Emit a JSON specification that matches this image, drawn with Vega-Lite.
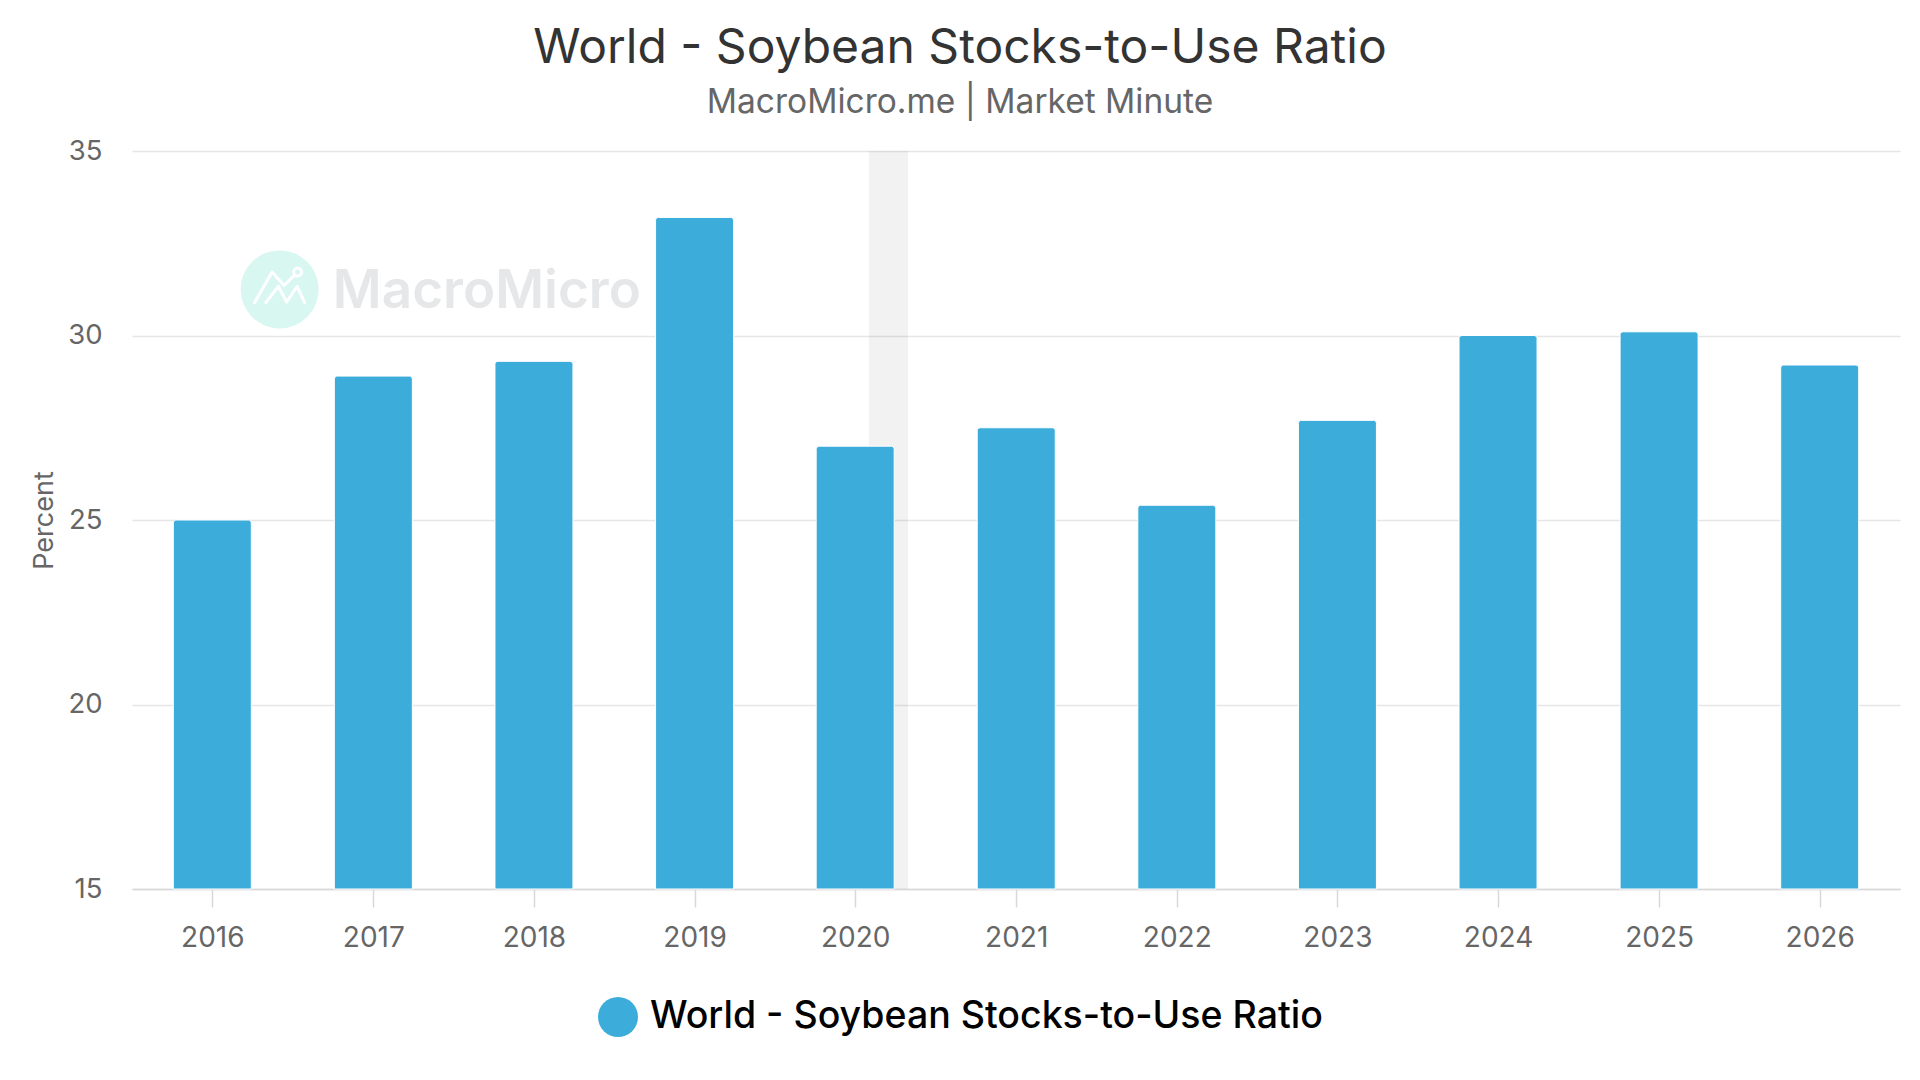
{
  "$schema": "https://vega.github.io/schema/vega-lite/v6.json",
  "autosize": "none",
  "width": 1768,
  "height": 738,
  "padding": {"left": 132, "top": 151, "right": 20, "bottom": 191},
  "background": "#ffffff",
  "title": {
    "text": "World - Soybean Stocks-to-Use Ratio",
    "subtitle": "MacroMicro.me | Market Minute",
    "anchor": "middle",
    "frame": "group",
    "dx": -56,
    "offset": 18,
    "font": "Inter",
    "fontSize": 48,
    "fontWeight": 400,
    "color": "#333333",
    "subtitleFont": "Inter",
    "subtitleFontSize": 33.5,
    "subtitleColor": "#666666",
    "subtitlePadding": 14
  },
  "config": {
    "view": {"stroke": null},
    "font": "Inter"
  },
  "data": {
    "values": [
      {"year": "2016-01-01", "value": 25.0},
      {"year": "2017-01-01", "value": 28.9},
      {"year": "2018-01-01", "value": 29.3},
      {"year": "2019-01-01", "value": 33.2},
      {"year": "2020-01-01", "value": 27.0},
      {"year": "2021-01-01", "value": 27.5},
      {"year": "2022-01-01", "value": 25.4},
      {"year": "2023-01-01", "value": 27.7},
      {"year": "2024-01-01", "value": 30.0},
      {"year": "2025-01-01", "value": 30.1},
      {"year": "2026-01-01", "value": 29.2}
    ]
  },
  "layer": [
    {
      "data": {"values": [{"start": "2020-02-01", "end": "2020-04-30"}]},
      "mark": {"type": "rect", "color": "#000000", "opacity": 0.05},
      "encoding": {
        "x": {"field": "start", "type": "temporal", "scale": {"type": "utc"}},
        "x2": {"field": "end"},
        "y": {"datum": 35, "type": "quantitative"},
        "y2": {"datum": 15}
      }
    },
    {
      "data": {"values": [{"brand": "MacroMicro"}]},
      "mark": {"type": "point", "filled": true, "opacity": 1, "size": 6084, "color": "#d7f7f0", "strokeWidth": 0},
      "encoding": {
        "x": {"datum": {"year": 2016, "month": 6, "date": 2, "utc": true}, "type": "temporal", "scale": {"type": "utc"}},
        "y": {"datum": 31.25, "type": "quantitative"}
      }
    },
    {
      "data": {"values": [{"brand": "MacroMicro"}]},
      "mark": {
        "type": "point",
        "filled": false,
        "opacity": 1,
        "size": 2500,
        "color": "#ffffff",
        "strokeWidth": 3,
        "strokeCap": "round",
        "strokeJoin": "round",
        "shape": "M-1,0.6L-0.3,-0.62L0.18,-0.08L0.6,-0.5M-0.55,0.6L-0.05,-0.05L0.28,0.58L0.7,-0.05L1,0.6M0.88,-0.62A0.16,0.16 0 1,1 0.56,-0.62A0.16,0.16 0 1,1 0.88,-0.62"
      },
      "encoding": {
        "x": {"datum": {"year": 2016, "month": 6, "date": 2, "utc": true}, "type": "temporal", "scale": {"type": "utc"}},
        "y": {"datum": 31.3, "type": "quantitative"}
      }
    },
    {
      "data": {"values": [{"brand": "MacroMicro"}]},
      "mark": {"type": "text", "align": "left", "baseline": "alphabetic", "font": "Inter", "fontSize": 53, "fontWeight": 600, "color": "#e6e7e8"},
      "encoding": {
        "x": {"datum": {"year": 2016, "month": 10, "date": 1, "utc": true}, "type": "temporal", "scale": {"type": "utc"}},
        "y": {"datum": 30.74, "type": "quantitative"},
        "text": {"field": "brand"}
      }
    },
    {
      "mark": {
        "type": "bar",
        "width": 78,
        "stroke": "#ffffff",
        "strokeWidth": 1,
        "cornerRadiusTopLeft": 3,
        "cornerRadiusTopRight": 3
      },
      "encoding": {
        "x": {
          "field": "year",
          "type": "temporal",
          "scale": {
            "type": "utc",
            "padding": 0,
            "nice": false,
            "domain": [
              {"year": 2015, "month": 7, "date": 2, "hours": 12, "utc": true},
              {"year": 2026, "month": 7, "date": 2, "hours": 12, "utc": true}
            ]
          },
          "axis": {
            "title": null,
            "values": [
              {"year": 2016, "utc": true}, {"year": 2017, "utc": true}, {"year": 2018, "utc": true},
              {"year": 2019, "utc": true}, {"year": 2020, "utc": true}, {"year": 2021, "utc": true},
              {"year": 2022, "utc": true}, {"year": 2023, "utc": true}, {"year": 2024, "utc": true},
              {"year": 2025, "utc": true}, {"year": 2026, "utc": true}
            ],
            "format": "%Y",
            "grid": false,
            "labelFont": "Inter",
            "labelFontSize": 28,
            "labelColor": "#666666",
            "labelPadding": 17,
            "labelFlush": false,
            "labelOverlap": false,
            "tickSize": 18,
            "tickColor": "#d8d8d8",
            "tickWidth": 1.5,
            "domainColor": "#d8d8d8",
            "domainWidth": 1.5
          }
        },
        "y": {
          "field": "value",
          "type": "quantitative",
          "scale": {"domain": [15, 35], "nice": false, "zero": false},
          "axis": {
            "values": [15, 20, 25, 30, 35],
            "grid": true,
            "title": "Percent",
            "titleFont": "Inter",
            "titleFontSize": 27,
            "titleFontWeight": "normal",
            "titleColor": "#666666",
            "titlePadding": 9,
            "labelFont": "Inter",
            "labelFontSize": 27.5,
            "labelColor": "#666666",
            "labelPadding": 30,
            "ticks": false,
            "tickSize": 0,
            "domain": false,
            "gridColor": "#e6e6e6",
            "gridWidth": 1.5
          }
        },
        "y2": {"datum": 15},
        "color": {
          "datum": "World - Soybean Stocks-to-Use Ratio",
          "type": "nominal",
          "scale": {"range": ["#3caddb"]},
          "legend": {
            "orient": "none",
            "legendX": 466,
            "legendY": 846,
            "padding": 0,
            "direction": "horizontal",
            "title": null,
            "symbolType": "circle",
            "symbolSize": 1600,
            "symbolStrokeWidth": 0,
            "labelFont": "Inter",
            "labelFontSize": 37.5,
            "labelFontWeight": 500,
            "labelColor": "#000000",
            "labelOffset": 12,
            "labelLimit": 1200
          }
        }
      }
    }
  ]
}
